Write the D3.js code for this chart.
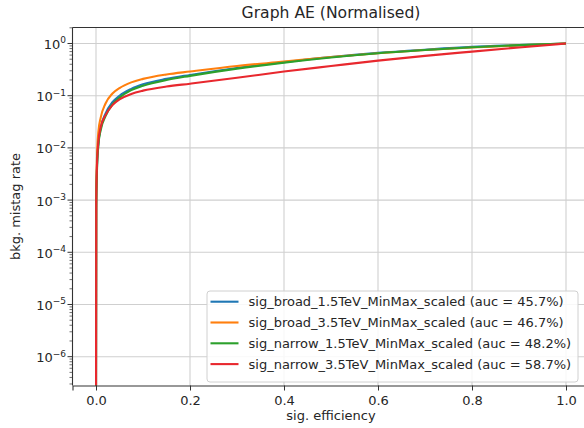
<!DOCTYPE html>
<html>
<head>
<meta charset="utf-8">
<script src="https://cdn.jsdelivr.net/npm/d3@7"></script>
<style>
  html, body { margin: 0; padding: 0; background: #fff; }
  svg { display: block; font-family: "DejaVu Sans", sans-serif; }
</style>
</head>
<body>
<svg id="chart" width="584" height="428"></svg>
<script>
// ROC curves: background mistag rate vs. signal efficiency
const seriesNames = [
  "sig_broad_1.5TeV_MinMax_scaled",
  "sig_broad_3.5TeV_MinMax_scaled",
  "sig_narrow_1.5TeV_MinMax_scaled",
  "sig_narrow_3.5TeV_MinMax_scaled"
];
const aucPercent = [45.7, 46.7, 48.2, 58.7];

const sigEfficiency = [0, 0.0005, 0.002, 0.005, 0.01, 0.02, 0.035, 0.05, 0.075, 0.1,
                       0.15, 0.2, 0.3, 0.4, 0.5, 0.6, 0.7, 0.8, 0.9, 1.0];
const mistagBroad15  = [1e-7, 8e-4, 4e-3, 0.012, 0.024, 0.045, 0.075, 0.1, 0.135, 0.165,
                        0.21, 0.25, 0.34, 0.44, 0.55, 0.66, 0.76, 0.86, 0.93, 1.0];
const mistagBroad35  = [1e-7, 1e-3, 6e-3, 0.02, 0.038, 0.07, 0.11, 0.14, 0.18, 0.21,
                        0.255, 0.29, 0.37, 0.45, 0.55, 0.65, 0.75, 0.84, 0.92, 1.0];
const mistagNarrow15 = [1e-7, 7e-4, 3.5e-3, 0.011, 0.022, 0.04, 0.068, 0.092, 0.128, 0.155,
                        0.2, 0.24, 0.33, 0.43, 0.54, 0.65, 0.75, 0.85, 0.93, 1.0];
const mistagNarrow35 = [1e-7, 9e-4, 4.5e-3, 0.013, 0.025, 0.042, 0.066, 0.085, 0.108, 0.125,
                        0.15, 0.17, 0.22, 0.29, 0.37, 0.47, 0.58, 0.70, 0.84, 1.0];

const xTicks = [0, 0.2, 0.4, 0.6, 0.8, 1.0];
const yTickExponents = [0, -1, -2, -3, -4, -5, -6];

const mistagSeries = [mistagBroad15, mistagBroad35, mistagNarrow15, mistagNarrow35];
const colors = ["#1f77b4", "#ff7f0e", "#2ca02c", "#e8282e"];

const fontSize = 13;
const svg = d3.select("#chart");
const plot = { left: 72.5, right: 589.5, top: 27.5, bottom: 385.5 };

const x = d3.scaleLinear().domain([-0.05, 1.05]).range([plot.left, plot.right]);
const y = d3.scaleLog().domain([Math.pow(10, -6.552), Math.pow(10, 0.3065)])
  .range([plot.bottom, plot.top]);

svg.append("defs").append("clipPath").attr("id", "plotClip")
  .append("rect")
  .attr("x", plot.left).attr("y", plot.top)
  .attr("width", plot.right - plot.left).attr("height", plot.bottom - plot.top);

// grid
const grid = svg.append("g").attr("stroke", "#cfcfcf").attr("stroke-width", 1.1);
xTicks.forEach(t => grid.append("line")
  .attr("x1", x(t)).attr("x2", x(t)).attr("y1", plot.top).attr("y2", plot.bottom));
yTickExponents.forEach(e => grid.append("line")
  .attr("x1", plot.left).attr("x2", plot.right)
  .attr("y1", y(Math.pow(10, e))).attr("y2", y(Math.pow(10, e))));

// curves
const line = d3.line()
  .x((d, i) => x(sigEfficiency[i]))
  .y(d => y(d))
  .curve(d3.curveMonotoneX);

const curves = svg.append("g").attr("clip-path", "url(#plotClip)");
mistagSeries.forEach((vals, i) => {
  curves.append("path")
    .attr("d", line(vals))
    .attr("fill", "none")
    .attr("stroke", colors[i])
    .attr("stroke-width", 2.1)
    .attr("stroke-linejoin", "round");
});

// axes
const xAxis = d3.axisBottom(x).tickValues(xTicks).tickFormat(d3.format(".1f"))
  .tickSize(5).tickPadding(5);
const gx = svg.append("g").attr("transform", `translate(0,${plot.bottom})`).call(xAxis);
gx.select(".domain").attr("stroke", "#333").attr("stroke-width", 1.1);
gx.selectAll(".tick line").attr("stroke", "#333");
gx.selectAll(".tick text").attr("font-size", fontSize).attr("fill", "#262626")
  .attr("font-family", "DejaVu Sans");

// y axis spine, major and minor ticks
const gy = svg.append("g");
gy.append("line").attr("x1", plot.left).attr("x2", plot.left)
  .attr("y1", plot.top).attr("y2", plot.bottom)
  .attr("stroke", "#333").attr("stroke-width", 1.1);
svg.append("line").attr("x1", plot.left).attr("x2", plot.right)
  .attr("y1", plot.top).attr("y2", plot.top)
  .attr("stroke", "#333").attr("stroke-width", 1.1);

const [yLo, yHi] = y.domain();
for (let e = -7; e <= 0; e++) {
  for (let m = 2; m <= 9; m++) {
    const v = m * Math.pow(10, e);
    if (v < yLo || v > yHi) continue;
    gy.append("line").attr("x1", plot.left - 3).attr("x2", plot.left)
      .attr("y1", y(v)).attr("y2", y(v)).attr("stroke", "#333").attr("stroke-width", 0.7);
  }
}
yTickExponents.forEach(e => {
  const ty = y(Math.pow(10, e));
  gy.append("line").attr("x1", plot.left - 5).attr("x2", plot.left)
    .attr("y1", ty).attr("y2", ty).attr("stroke", "#333").attr("stroke-width", 1);
  const t = gy.append("text").attr("x", 66).attr("y", ty + 5.5)
    .attr("text-anchor", "end").attr("font-size", fontSize).attr("fill", "#262626");
  t.append("tspan").text("10");
  t.append("tspan").attr("dy", -5.5).attr("font-size", 9)
    .text(e === 0 ? "0" : "\u2212" + Math.abs(e));
});

// labels
svg.append("text").attr("x", 331).attr("y", 18).attr("text-anchor", "middle")
  .attr("font-size", 15.6).attr("fill", "#262626").text("Graph AE (Normalised)");
svg.append("text").attr("x", 331).attr("y", 420).attr("text-anchor", "middle")
  .attr("font-size", fontSize).attr("fill", "#262626").text("sig. efficiency");
svg.append("text").attr("transform", "translate(20,206.5) rotate(-90)")
  .attr("text-anchor", "middle").attr("font-size", fontSize).attr("fill", "#262626")
  .text("bkg. mistag rate");

// legend
const legend = svg.append("g");
legend.append("rect").attr("x", 207).attr("y", 291).attr("width", 371).attr("height", 91)
  .attr("rx", 3).attr("fill", "#fff").attr("fill-opacity", 0.85)
  .attr("stroke", "#d0d0d0").attr("stroke-width", 1);
seriesNames.forEach((name, i) => {
  const ry = 301.7 + i * 20.8;
  legend.append("line").attr("x1", 210.5).attr("x2", 238.5).attr("y1", ry).attr("y2", ry)
    .attr("stroke", colors[i]).attr("stroke-width", 2.1);
  legend.append("text").attr("x", 248.5).attr("y", ry + 4.5).attr("font-size", fontSize)
    .attr("fill", "#262626").text(`${name} (auc = ${aucPercent[i]}%)`);
});
</script>
</body>
</html>
